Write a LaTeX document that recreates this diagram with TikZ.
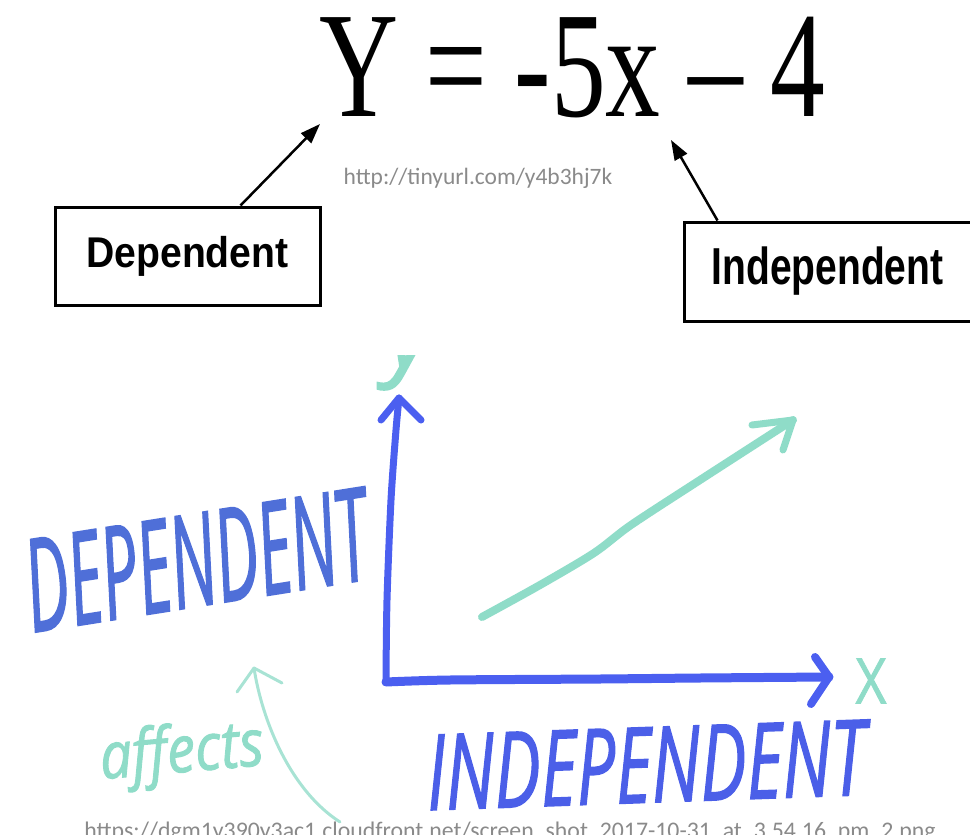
\documentclass[tikz,border=0pt]{standalone}
\usepackage{fontspec}
\usetikzlibrary{arrows.meta}
\setmainfont{Liberation Serif}
\newfontfamily\labelfont{Liberation Sans}
\newfontfamily\urlfont{Carlito}
\newfontfamily\handfont{Open Sans}[FakeBold=1.5]
\definecolor{axisblue}{HTML}{4B5FF0}
\definecolor{textblue}{HTML}{4F6FD8}
\definecolor{indblue}{HTML}{4B5FE8}
\definecolor{mint}{HTML}{8FDCC8}
\definecolor{lightmint}{HTML}{A8E3D4}
\definecolor{urlgrey}{HTML}{8A8A8A}
\tikzset{
  labelbox/.style={draw=black, line width=3pt, inner sep=0pt, align=center},
  pointer/.style={draw=black, line width=2.5pt, -{Triangle[length=20pt,width=14pt]}},
  urltext/.style={text=urlgrey, inner sep=0pt, font=\urlfont},
  axis/.style={draw=axisblue, line cap=round, line join=round},
  mintstroke/.style={draw=mint, line cap=round, line join=round},
  handtext/.style={inner sep=0pt},
}
\begin{document}
\begin{tikzpicture}[x=1pt,y=-1pt]
\useasboundingbox (0,0) rectangle (970,835);
\clip (0,0) rectangle (970,835);

% equation
\node[anchor=base west, inner sep=0pt] (eq) at (319,116)
  {\fontsize{151}{151}\selectfont\scalebox{0.725}[1]{Y = -5x – 4}};
\coordinate (ytip) at (320,124);
\coordinate (xtip) at (671,140);

% boxes
\node[labelbox, minimum width=265pt, minimum height=98pt] (dep) at (187.5,256)
  {\fontsize{43}{43}\selectfont\labelfont\bfseries\scalebox{0.91}[1]{Dependent}};
\node[labelbox, minimum width=287pt, minimum height=99pt] (ind) at (827.5,271.5)
  {\fontsize{52}{52}\selectfont\labelfont\bfseries\scalebox{0.75}[1]{Independent}};

\draw[pointer] ([xshift=53pt]dep.north) -- (ytip);
\draw[pointer] ([xshift=-110pt]ind.north) -- (xtip);

\node[urltext, font=\urlfont\fontsize{23.5}{23.5}\selectfont] (url1) at (478,178) {http://tinyurl.com/y4b3hj7k};

% axes
\coordinate (origin) at (386,682);
\coordinate (ytop) at (399,398);
\coordinate (xend) at (829,677);
\draw[axis, line width=7pt] plot[smooth] coordinates {(origin) (387,600) (391,500) (396,430) (ytop)};
\draw[axis, line width=7pt] (381,420) -- (ytop) -- (421,420);
\draw[axis, line width=9pt] plot[smooth] coordinates {(origin) (450,680) (600,679) (700,678) (xend)};
\draw[axis, line width=8pt] (815,657) -- (xend) -- (811,704);

% axis letters
\begin{scope}
  \clip (0,355) rectangle (970,835);
  \node[handtext, text=mint, anchor=base] (ylab) at (410,366)
    {\fontsize{100}{100}\selectfont\handfont\itshape y};
\end{scope}
\node[handtext, text=mint] (xlab) at (871,681)
  {\fontsize{63}{63}\selectfont\handfont\scalebox{0.85}[1]{X}};

% rising trend arrow
\coordinate (trs) at (482,617);
\coordinate (tre) at (793,420);
\draw[mintstroke, line width=8pt] plot[smooth] coordinates {(trs) (540,585) (594,553) (631,525) (700,480) (tre)};
\draw[mintstroke, line width=7pt] (752,425) -- (tre) -- (783,450);

% hand lettering
\node[handtext, text=textblue, rotate=9] (deplab) at (196,560)
  {\fontsize{129}{129}\selectfont\handfont\itshape\scalebox{0.5}[1]{DEPENDENT}};
\node[handtext, text=indblue, rotate=2] (indlab) at (646,765)
  {\fontsize{105}{105}\selectfont\handfont\itshape\scalebox{0.66}[1]{INDEPENDENT}};
\node[handtext, text=mint, rotate=5] (afflab) at (182,755)
  {\fontsize{65}{65}\selectfont\handfont\itshape\scalebox{0.87}[1]{affects}};

% affects arrow
\coordinate (affs) at (340,822);
\coordinate (afft) at (254,668);
\draw[draw=lightmint, line width=3pt, line cap=round] (affs) .. controls (290,790) and (262,720) .. (afft);
\draw[draw=lightmint, line width=3pt, line cap=round, line join=round] (237,692) -- (afft) -- (282,683);

% bottom url
\node[urltext, anchor=base, font=\urlfont\fontsize{23.8}{23.8}\selectfont] (url2) at (510,838)
  {https://dgm1y390y3ac1.cloudfront.net/screen\_shot\_2017-10-31\_at\_3.54.16\_pm\_2.png};
\end{tikzpicture}
\end{document}
